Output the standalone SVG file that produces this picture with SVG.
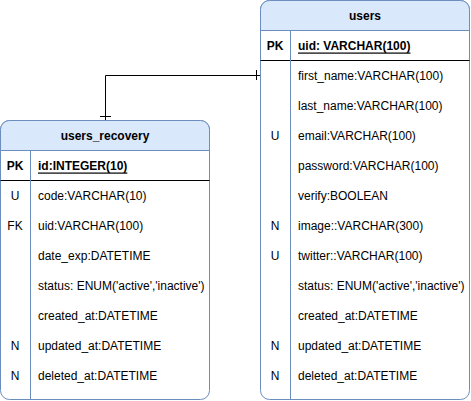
<svg xmlns="http://www.w3.org/2000/svg" width="471" height="401" viewBox="0 0 471 401">
<defs>
<style>
.box{fill:#ffffff;stroke:#6c8ebf;stroke-width:1}
.hdr{fill:#dae8fc;stroke:#6c8ebf;stroke-width:1}
.div{stroke:#6c8ebf;stroke-width:1;fill:none}
.sep{stroke:#000000;stroke-width:1;fill:none}
text{font-family:"Liberation Sans",Arial,Helvetica,sans-serif;font-size:12px;fill:#000000;dominant-baseline:central}
.t{font-weight:bold;text-anchor:middle}
.k{text-anchor:middle}
.pk{font-weight:bold}
.u{text-decoration:underline}
.edge{stroke:#000000;stroke-width:1;fill:none}
</style>
</defs>
<g id="connectors">
<path class="edge" d="M260.5 75.5 H105.5 V120"/>
<path class="edge" d="M256.5 70 V80"/>
<path class="edge" d="M100 116.5 H111"/>
</g>
<g id="users">
<rect class="box" x="260.5" y="0.5" width="209" height="399" rx="9" ry="9"/>
<path class="hdr" d="M260.5 30.5 V9.5 A9 9 0 0 1 269.5 0.5 H460.5 A9 9 0 0 1 469.5 9.5 V30.5 Z"/>
<line class="sep" x1="260.5" y1="60.5" x2="469.5" y2="60.5"/>
<line class="div" x1="290.5" y1="30.5" x2="290.5" y2="399.5"/>
<text class="t" x="365" y="15.5">users</text>
<text class="k pk" x="275" y="45.5">PK</text>
<text class="pk u" x="298" y="45.5">uid: VARCHAR(100)</text>
<text x="298" y="75.5">first_name:VARCHAR(100)</text>
<text x="298" y="105.5">last_name:VARCHAR(100)</text>
<text class="k" x="275" y="135.5">U</text>
<text x="298" y="135.5">email:VARCHAR(100)</text>
<text x="298" y="165.5">password:VARCHAR(100)</text>
<text x="298" y="195.5">verify:BOOLEAN</text>
<text class="k" x="275" y="225.5">N</text>
<text x="298" y="225.5">image::VARCHAR(300)</text>
<text class="k" x="275" y="255.5">U</text>
<text x="298" y="255.5">twitter::VARCHAR(100)</text>
<text x="298" y="285.5">status: ENUM('active','inactive')</text>
<text x="298" y="315.5">created_at:DATETIME</text>
<text class="k" x="275" y="345.5">N</text>
<text x="298" y="345.5">updated_at:DATETIME</text>
<text class="k" x="275" y="375.5">N</text>
<text x="298" y="375.5">deleted_at:DATETIME</text>
</g>
<g id="users_recovery">
<rect class="box" x="0.5" y="120.5" width="209" height="279" rx="9" ry="9"/>
<path class="hdr" d="M0.5 150.5 V129.5 A9 9 0 0 1 9.5 120.5 H200.5 A9 9 0 0 1 209.5 129.5 V150.5 Z"/>
<line class="sep" x1="0.5" y1="180.5" x2="209.5" y2="180.5"/>
<line class="div" x1="30.5" y1="150.5" x2="30.5" y2="399.5"/>
<text class="t" x="105" y="135.5">users_recovery</text>
<text class="k pk" x="15" y="165.5">PK</text>
<text class="pk u" x="38" y="165.5">id:INTEGER(10)</text>
<text class="k" x="15" y="195.5">U</text>
<text x="38" y="195.5">code:VARCHAR(10)</text>
<text class="k" x="15" y="225.5">FK</text>
<text x="38" y="225.5">uid:VARCHAR(100)</text>
<text x="38" y="255.5">date_exp:DATETIME</text>
<text x="38" y="285.5">status: ENUM('active','inactive')</text>
<text x="38" y="315.5">created_at:DATETIME</text>
<text class="k" x="15" y="345.5">N</text>
<text x="38" y="345.5">updated_at:DATETIME</text>
<text class="k" x="15" y="375.5">N</text>
<text x="38" y="375.5">deleted_at:DATETIME</text>
</g>
</svg>
